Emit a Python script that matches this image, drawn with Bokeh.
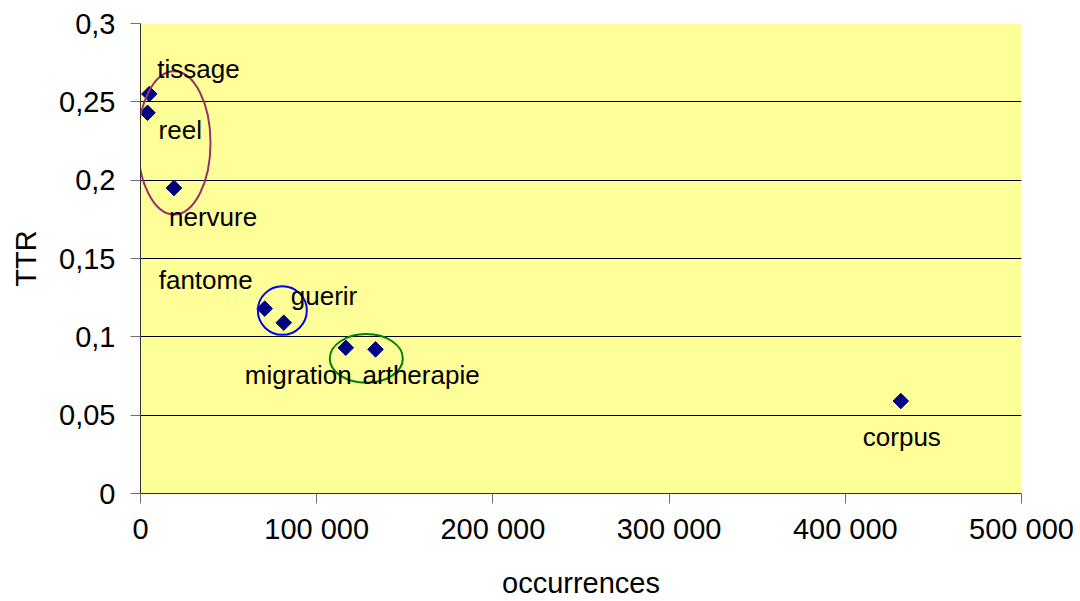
import numpy as np
from bokeh.plotting import figure
from bokeh.models import ColumnDataSource, FixedTicker, CustomJSTickFormatter, Range1d
from bokeh.core.properties import value
from bokeh.embed import file_html
from bokeh.resources import INLINE

# ---- data ----
names = ["tissage", "reel", "nervure", "fantome", "guerir", "migration", "artherapie", "corpus"]
occurrences = [5000, 4000, 19000, 70500, 81300, 116500, 133400, 431500]
ttr = [0.255, 0.243, 0.195, 0.118, 0.109, 0.093, 0.092, 0.059]

# label placement (screen px offsets from each point)
label_dx = [8, 11, -5, -106, 7, -101, -13, -38]
label_dy = [-25, 17, 29, -29, -27, 27, 26, 36]

# hand-drawn grouping ellipses
ell_x = [19100, 80500, 128150]
ell_y = [0.2238, 0.1168, 0.0862]
ell_w = [41260, 27800, 41430]
ell_h = [0.0915, 0.0310, 0.0311]
ell_colors = ["#993366", "#0000FF", "#008000"]

x_ticks = [0, 100000, 200000, 300000, 400000, 500000]
y_ticks = [0, 0.05, 0.1, 0.15, 0.2, 0.25, 0.3]
x_title = "occurrences"
y_title = "TTR"

FONT = "Liberation Sans"

p = figure(width=1080, height=601, output_backend="svg", toolbar_location=None,
           x_range=Range1d(0, 500000), y_range=Range1d(0, 0.3),
           min_border_left=140, min_border_right=59, min_border_top=23, min_border_bottom=108)

p.background_fill_color = "#FFFF99"
p.border_fill_color = "white"
p.outline_line_color = None

p.xgrid.grid_line_color = None
p.ygrid.grid_line_color = "#000000"
p.ygrid.grid_line_width = 1
p.ygrid.ticker = FixedTicker(ticks=y_ticks)

p.xaxis.ticker = FixedTicker(ticks=x_ticks)
p.yaxis.ticker = FixedTicker(ticks=y_ticks)
p.xaxis.formatter = CustomJSTickFormatter(code="""
return Math.round(tick).toString().replace(/\\B(?=(\\d{3})+(?!\\d))/g, ' ');
""")
p.yaxis.formatter = CustomJSTickFormatter(code="""
return (Math.round(tick*100)/100).toString().replace('.', ',');
""")

for ax in (p.xaxis, p.yaxis):
    ax.major_label_text_font = FONT
    ax.major_label_text_font_size = "29px"
    ax.major_label_text_color = "#000000"
    ax.axis_label_text_font = FONT
    ax.axis_label_text_font_size = "29px"
    ax.axis_label_text_font_style = "normal"
    ax.axis_label_text_color = "#000000"
    ax.minor_tick_line_color = None
    ax.major_tick_in = 0
    ax.major_tick_out = 10
    ax.major_tick_line_color = "#707070"
    ax.axis_line_color = "#303030"

p.xaxis.axis_label = x_title
p.yaxis.axis_label = y_title
p.xaxis.major_label_standoff = 9
p.xaxis.axis_label_standoff = 19
p.yaxis.major_label_standoff = 15
p.yaxis.axis_label_standoff = 14
p.yaxis.major_label_orientation = "horizontal"

src = ColumnDataSource(dict(x=occurrences, y=ttr, name=names, dx=label_dx, dy=label_dy))
esrc = ColumnDataSource(dict(x=ell_x, y=ell_y, w=ell_w, h=ell_h, c=ell_colors))

p.scatter("x", "y", source=src, marker="square", angle=np.pi / 4, size=11,
          fill_color="#000080", line_color="#000080")

p.ellipse("x", "y", width="w", height="h", source=esrc, fill_color=None,
          line_color="c", line_width=2)

p.text("x", "y", text="name", source=src, x_offset="dx", y_offset="dy",
       text_font=value(FONT), text_font_size="26px", text_color="#000000",
       text_align="left", text_baseline="alphabetic")

open("out.html", "w").write(file_html(p, INLINE))
